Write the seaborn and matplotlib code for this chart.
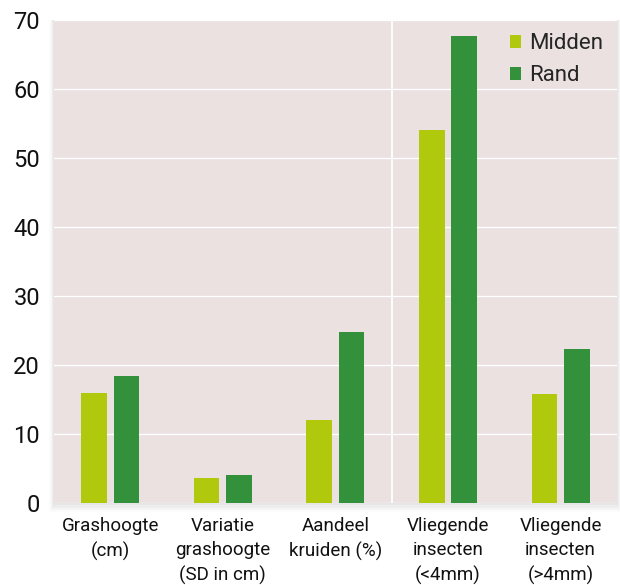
import pandas as pd
import matplotlib
matplotlib.use('Agg')
import matplotlib.pyplot as plt
import seaborn as sns
from matplotlib.patches import Rectangle

# data
categorieen = ['Grashoogte\n(cm)', 'Variatie\ngrashoogte\n(SD in cm)', 'Aandeel\nkruiden (%)',
               'Vliegende\ninsecten\n(<4mm)', 'Vliegende\ninsecten\n(>4mm)']
midden = [16.0, 3.6, 12.0, 54.0, 15.8]
rand = [18.4, 4.1, 24.8, 67.7, 22.3]
series = ['Midden', 'Rand']
kleuren = ['#b0c90c', '#32913a']

df = pd.DataFrame({
    'categorie': categorieen * 2,
    'waarde': midden + rand,
    'groep': [series[0]] * len(midden) + [series[1]] * len(rand),
})

sns.set_style('white')
plt.rcParams['font.family'] = ['Roboto', 'DejaVu Sans']

fig = plt.figure(figsize=(6.2, 5.85), dpi=100)
ax = fig.add_axes([0.087, 0.140, 0.908, 0.826])
ax.set_zorder(2)

# zachte schaduw achter het plotvlak
for i, a in enumerate([0.06, 0.045, 0.03, 0.02]):
    d = 0.003 * (i + 1)
    fig.patches.append(Rectangle((0.087 - d * 0.6, 0.140 - d * 1.3), 0.908 + d * 1.2, 0.826 + d * 1.3,
                                 transform=fig.transFigure, facecolor='#555555', alpha=a,
                                 edgecolor='none', zorder=0))

ax.set_facecolor('#ebe1e1')
sns.barplot(data=df, x='categorie', y='waarde', hue='groep', palette=kleuren,
            width=0.574, gap=0.21, ax=ax, saturation=1, linewidth=0, zorder=3)

ax.set_ylim(0, 70)
ax.set_xlim(-0.5, 4.5)
ax.set_yticks(range(0, 71, 10))
ax.yaxis.grid(True, color='white', linewidth=1.0, zorder=1)
ax.axvline(2.5, color='white', linewidth=1.3, zorder=1)
ax.set_axisbelow(True)
for s in ax.spines.values():
    s.set_visible(False)
ax.set_xlabel('')
ax.set_ylabel('')
ax.tick_params(axis='y', labelsize=17, length=0, pad=10, labelcolor='#111111')
ax.tick_params(axis='x', labelsize=13.5, length=0, pad=10, labelcolor='#111111')
for lbl in ax.get_xticklabels():
    lbl.set_linespacing(1.45)

ax.legend(loc='upper right', frameon=False, fontsize=16, handlelength=0.5, handleheight=0.5,
          handletextpad=0.4, labelspacing=0.5, borderaxespad=0.2)

fig.savefig('out.png', dpi=100)
